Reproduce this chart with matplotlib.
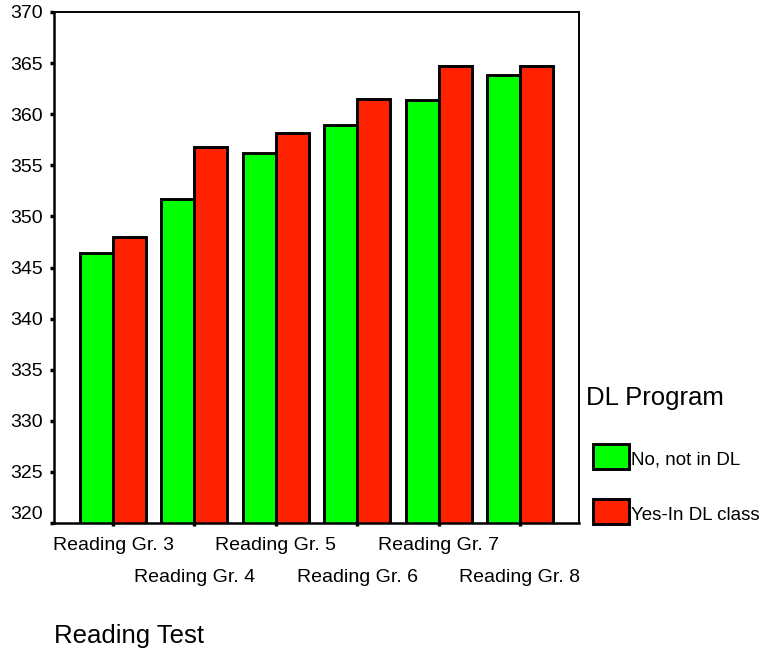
import matplotlib
matplotlib.use("Agg")
import matplotlib.pyplot as plt
from matplotlib.patches import Rectangle
import numpy as np

# data
tests = ["Reading Gr. 3", "Reading Gr. 4", "Reading Gr. 5",
         "Reading Gr. 6", "Reading Gr. 7", "Reading Gr. 8"]
not_dl = [346.4, 351.7, 356.2, 358.9, 361.4, 363.8]
in_dl = [348.0, 356.8, 358.2, 361.5, 364.75, 364.75]
series_names = ["No, not in DL", "Yes-In DL class"]
series_colors = ["#00ff00", "#ff2200"]
yticks = [320, 325, 330, 335, 340, 345, 350, 355, 360, 365, 370]

plt.rcParams['font.family'] = ['Liberation Sans', 'DejaVu Sans']

W, H = 770, 652
fig = plt.figure(figsize=(W / 100, H / 100), dpi=100)
ax = fig.add_axes([54 / W, (H - 523) / H, 525 / W, 511 / H])

x = np.arange(len(tests))
bw = 0.405
for vals, off, col in zip([not_dl, in_dl], [-bw / 2, bw / 2], series_colors):
    ax.bar(x + off, vals, width=bw, bottom=0, color=col,
           edgecolor="black", linewidth=2.1, zorder=2)

ax.set_ylim(320, 370)
ax.set_xlim(-0.725, len(tests) - 1 + 0.725)
ax.set_yticks(yticks)
ax.set_yticklabels([str(v) for v in yticks], fontsize=14)
ax.get_yticklabels()[0].set_va("bottom")   # bottom label sits above the axis
ax.set_xticks(x)
ax.set_xticklabels([])
ax.tick_params(axis="y", direction="out", length=3, width=2.5, pad=5)
ax.tick_params(axis="x", direction="out", length=2.5, width=2.5)
for s in ["left", "bottom"]:
    ax.spines[s].set_linewidth(1.8)
for s in ["top", "right"]:
    ax.spines[s].set_linewidth(1.4)

# staggered category labels
trans = ax.get_xaxis_transform()
for i, lab in enumerate(tests):
    yy = -22 / 511 if i % 2 == 0 else -54 / 511
    ax.text(i, yy, lab, transform=trans, ha="center", va="center",
            fontsize=14)

fig.text(54 / W, 1 - 636 / H, "Reading Test", fontsize=18.5,
         ha="left", va="center")

# legend
fig.text(586 / W, 1 - 398 / H, "DL Program", fontsize=18.5,
         ha="left", va="center")
for k, (name, col) in enumerate(zip(series_names, series_colors)):
    top = 444 + k * 55
    fig.patches.append(Rectangle((593 / W, 1 - (top + 25) / H), 36 / W, 25 / H,
                                 transform=fig.transFigure, facecolor=col,
                                 edgecolor="black", linewidth=2.1))
    fig.text(631 / W, 1 - (top + 16) / H, name, fontsize=13.5,
             ha="left", va="center")

fig.savefig("out.png", dpi=100)
